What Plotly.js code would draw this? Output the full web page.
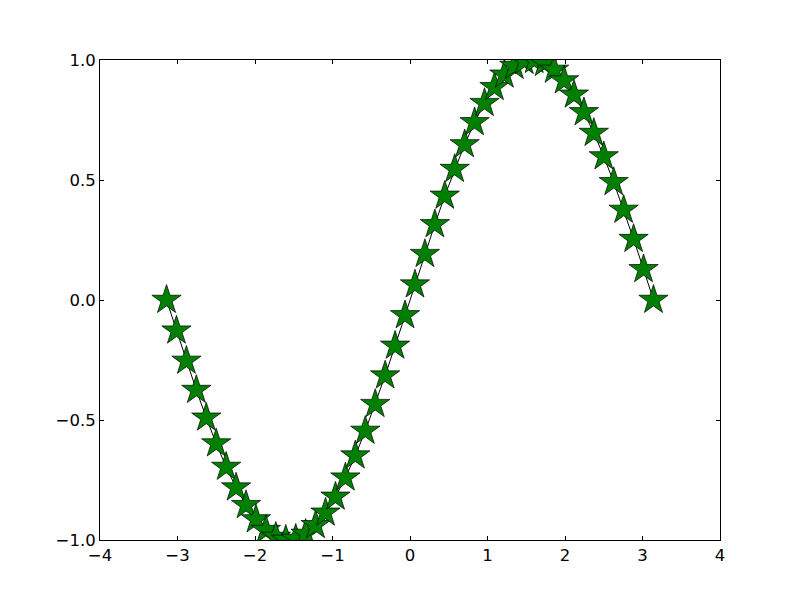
<!DOCTYPE html>
<html>
<head>
<meta charset="utf-8">
<script src="https://cdn.plot.ly/plotly-3.0.1.min.js"></script>
<style>html,body{margin:0;padding:0;background:#fff;}#chart{width:800px;height:600px;}</style>
</head>
<body>
<div id="chart"></div>
<script>
var xValues = [-3.1416,-3.0134,-2.8851,-2.7569,-2.6287,-2.5005,-2.3722,-2.2440,-2.1158,-1.9875,
  -1.8593,-1.7311,-1.6029,-1.4746,-1.3464,-1.2182,-1.0899,-0.9617,-0.8335,-0.7053,
  -0.5770,-0.4488,-0.3206,-0.1923,-0.0641,0.0641,0.1923,0.3206,0.4488,0.5770,
  0.7053,0.8335,0.9617,1.0899,1.2182,1.3464,1.4746,1.6029,1.7311,1.8593,
  1.9875,2.1158,2.2440,2.3722,2.5005,2.6287,2.7569,2.8851,3.0134,3.1416];
var yValues = [0.0000,-0.1279,-0.2537,-0.3753,-0.4907,-0.5981,-0.6957,-0.7818,-0.8551,-0.9144,
  -0.9587,-0.9872,-0.9995,-0.9954,-0.9749,-0.9385,-0.8866,-0.8202,-0.7403,-0.6483,
  -0.5455,-0.4339,-0.3151,-0.1911,-0.0641,0.0641,0.1911,0.3151,0.4339,0.5455,
  0.6483,0.7403,0.8202,0.8866,0.9385,0.9749,0.9954,0.9995,0.9872,0.9587,
  0.9144,0.8551,0.7818,0.6957,0.5981,0.4907,0.3753,0.2537,0.1279,0.0000];
var xTicks = [-4,-3,-2,-1,0,1,2,3,4];
var yTicks = [-1.0,-0.5,0.0,0.5,1.0];

var trace = {
  x: xValues, y: yValues, type: 'scatter', mode: 'lines+markers',
  line: {color: '#000000', width: 1},
  marker: {symbol: 'star', size: 22, color: '#008000', line: {color: '#000000', width: 0.7}},
  cliponaxis: true
};
var axisCommon = {
  showgrid: false, zeroline: false, showline: true, linecolor: '#000', linewidth: 1,
  mirror: 'ticks', ticks: 'inside', ticklen: 4, tickcolor: '#000', tickwidth: 1,
  tickfont: {family: 'DejaVu Sans', size: 16.5, color: '#000'}
};
var layout = {
  width: 800, height: 600,
  margin: {l: 100, r: 80, t: 60, b: 60, pad: 0},
  paper_bgcolor: '#fff', plot_bgcolor: '#fff',
  showlegend: false,
  xaxis: Object.assign({}, axisCommon, {range: [-4, 4], tickvals: xTicks, ticktext: xTicks.map(function(v){return (v<0?'\u2212':'')+Math.abs(v);})}),
  yaxis: Object.assign({}, axisCommon, {range: [-1, 1], tickvals: yTicks, ticktext: yTicks.map(function(v){return (v<0?'\u2212':'')+Math.abs(v).toFixed(1);})})
};
Plotly.newPlot('chart', [trace], layout, {displayModeBar: false, staticPlot: true});
</script>
</body>
</html>
